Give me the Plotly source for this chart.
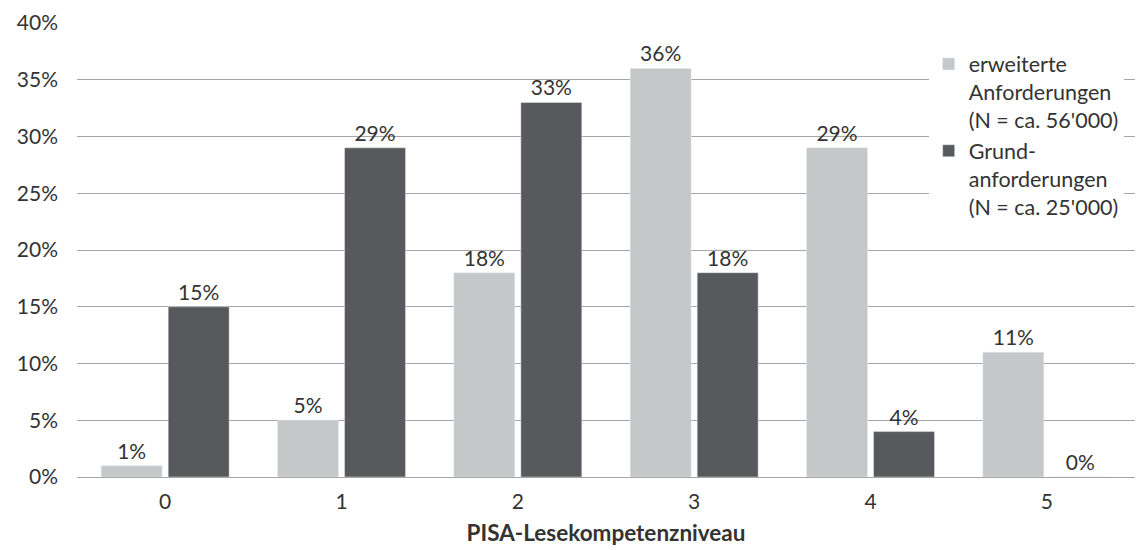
import plotly.graph_objects as go

levels = ["0", "1", "2", "3", "4", "5"]
erweiterte = [1, 5, 18, 36, 29, 11]
grund = [15, 29, 33, 18, 4, 0]

name_erw = "erweiterte<br>Anforderungen<br>(N = ca. 56'000)"
name_grund = "Grund-<br>anforderungen<br>(N = ca. 25'000)"

FONT = "Lato"
TEXT = "#333333"
SIZE = 21

fig = go.Figure()
for vals, name, color in [(erweiterte, name_erw, "#c6c7c9"), (grund, name_grund, "#58595b")]:
    fig.add_trace(go.Bar(
        x=levels, y=vals, name=name,
        marker_color=color,
        text=[f"{v}%" for v in vals],
        texttemplate="%{text}", textposition="outside",
        textfont=dict(family=FONT, size=SIZE, color=TEXT),
        cliponaxis=False, hoverinfo="skip",
    ))

fig.update_layout(
    width=1141, height=550,
    margin=dict(l=77, r=6, t=23, b=73),
    paper_bgcolor="white", plot_bgcolor="white",
    font=dict(family=FONT, size=SIZE, color=TEXT),
    barmode="group", bargap=0.24, bargroupgap=0.09,
    showlegend=True,
    legend=dict(
        x=0.805, y=0.955, xanchor="left", yanchor="top",
        bgcolor="white", valign="top",
        font=dict(family=FONT, size=21.5, color=TEXT),
        tracegroupgap=0, itemwidth=30,
    ),
    xaxis=dict(
        title=dict(text="<b>PISA-Lesekompetenzniveau</b>",
                   font=dict(family=FONT, size=22.5, color=TEXT), standoff=13),
        showgrid=False, zeroline=False, showline=False, ticks="",
        ticklabelstandoff=10,
        tickfont=dict(family=FONT, size=SIZE, color=TEXT),
    ),
    yaxis=dict(
        range=[0, 40], dtick=5, ticksuffix="%",
        showgrid=True, gridcolor="#a6a6a8", gridwidth=1.3,
        zeroline=True, zerolinecolor="#a6a6a8", zerolinewidth=1.3,
        showline=False, ticks="", ticklabelstandoff=18,
        tickfont=dict(family=FONT, size=SIZE, color=TEXT),
    ),
)

fig.write_html("out.html")
